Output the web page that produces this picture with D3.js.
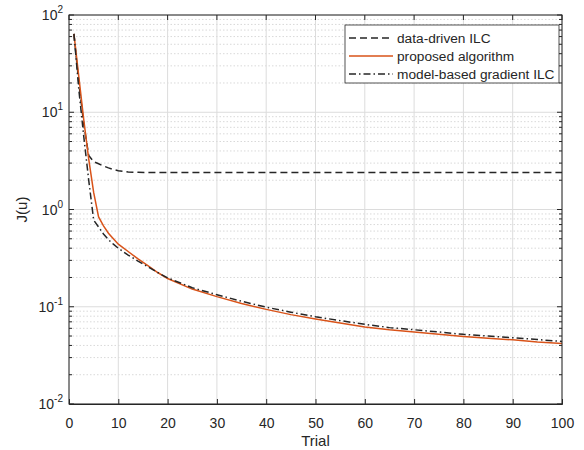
<!DOCTYPE html>
<html>
<head>
<meta charset="utf-8">
<script src="https://cdn.jsdelivr.net/npm/d3@7"></script>
<style>
  body { margin: 0; background: #fff; }
  text { font-family: "Liberation Sans", Arial, sans-serif; fill: #262626; }
</style>
</head>
<body>
<div id="chart"></div>
<script>
// values
const trials = [1, 2, 3, 4, 5, 6, 7, 8, 9, 10, 12, 14, 16, 18, 20, 25, 30, 35, 40, 45, 50, 55, 60, 65, 70, 75, 80, 85, 90, 95, 100]
const dataDriven = [64, 20, 7.5, 3.6, 3.1, 2.95, 2.8, 2.68, 2.58, 2.5, 2.43, 2.41, 2.4, 2.4, 2.4, 2.4, 2.4, 2.4, 2.4, 2.4, 2.4, 2.4, 2.4, 2.4, 2.4, 2.4, 2.4, 2.4, 2.4, 2.4, 2.4]
const proposed = [64, 23, 8.3, 3.3, 1.5, 0.84, 0.68, 0.57, 0.5, 0.44, 0.37, 0.31, 0.265, 0.225, 0.195, 0.152, 0.127, 0.108, 0.094, 0.083, 0.075, 0.068, 0.062, 0.058, 0.055, 0.052, 0.0495, 0.0475, 0.0457, 0.0435, 0.042]
const modelBased = [64, 17, 5.6, 2.0, 0.78, 0.66, 0.56, 0.49, 0.44, 0.40, 0.34, 0.295, 0.258, 0.225, 0.198, 0.157, 0.133, 0.114, 0.099, 0.088, 0.079, 0.072, 0.066, 0.061, 0.058, 0.055, 0.052, 0.05, 0.048, 0.046, 0.044]

const xTicks = [0, 10, 20, 30, 40, 50, 60, 70, 80, 90, 100]
const yExponents = [-2, -1, 0, 1, 2]
const seriesNames = ["data-driven ILC", "proposed algorithm", "model-based gradient ILC"]

const MARGIN = { TOP: 15, BOTTOM: 46, LEFT: 69, RIGHT: 22 }
const WIDTH = 584 - MARGIN.LEFT - MARGIN.RIGHT
const HEIGHT = 450 - MARGIN.TOP - MARGIN.BOTTOM
const AXIS = "#262626"

const svg = d3.select("#chart")
    .append("svg")
    .attr("width", 584)
    .attr("height", 450)
    .append("g")
    .attr("transform", "translate(" + MARGIN.LEFT + "," + MARGIN.TOP + ")")

const x = d3.scaleLinear().domain([0, 100]).range([0, WIDTH])
const y = d3.scaleLog().domain([0.01, 100]).range([HEIGHT, 0])

// minor log values 2..9 in each decade
const minor = []
for (let e = -2; e < 2; e++) {
    for (let m = 2; m <= 9; m++) minor.push(m * Math.pow(10, e))
}

// grid
svg.append("g").selectAll("line")
    .data(minor)
    .enter().append("line")
    .attr("x1", 0).attr("x2", WIDTH)
    .attr("y1", d => y(d)).attr("y2", d => y(d))
    .attr("stroke", "#d9d9d9")
    .attr("stroke-dasharray", "1.5,2")

svg.append("g").selectAll("line")
    .data(yExponents)
    .enter().append("line")
    .attr("x1", 0).attr("x2", WIDTH)
    .attr("y1", d => y(Math.pow(10, d))).attr("y2", d => y(Math.pow(10, d)))
    .attr("stroke", "#dcdcdc")

svg.append("g").selectAll("line")
    .data(xTicks)
    .enter().append("line")
    .attr("x1", d => x(d)).attr("x2", d => x(d))
    .attr("y1", 0).attr("y2", HEIGHT)
    .attr("stroke", "#dcdcdc")

// lines
const line = (vals) => d3.line()
    .x((d, i) => x(trials[i]))
    .y(d => y(d))(vals)

const styles = [
    { vals: dataDriven, color: "#262626", dash: "7,4" },
    { vals: proposed, color: "#D95319", dash: null },
    { vals: modelBased, color: "#262626", dash: "7,3,1.5,3" }
]

styles.forEach(s => {
    svg.append("path")
        .attr("d", line(s.vals))
        .attr("fill", "none")
        .attr("stroke", s.color)
        .attr("stroke-width", 1.5)
        .attr("stroke-dasharray", s.dash)
})

// axes
const xAxis = d3.axisBottom(x).tickValues(xTicks).tickSize(-5).tickPadding(14)
const gx = svg.append("g")
    .attr("transform", "translate(0," + HEIGHT + ")")
    .call(xAxis)
gx.select(".domain").attr("stroke", AXIS)
gx.selectAll(".tick line").attr("stroke", AXIS)
gx.selectAll(".tick text").attr("font-size", 14).attr("fill", AXIS)
    .attr("font-family", "Liberation Sans, Arial, sans-serif")

// top ticks
svg.append("g").selectAll("line")
    .data(xTicks)
    .enter().append("line")
    .attr("x1", d => x(d)).attr("x2", d => x(d))
    .attr("y1", 0).attr("y2", 5)
    .attr("stroke", AXIS)

// y ticks on both sides (major and minor)
const yTickVals = minor.concat(yExponents.map(e => Math.pow(10, e)))
svg.append("g").selectAll("line")
    .data(yTickVals)
    .enter().append("line")
    .attr("x1", 0).attr("x2", d => minor.includes(d) ? 3 : 5)
    .attr("y1", d => y(d)).attr("y2", d => y(d))
    .attr("stroke", AXIS)
svg.append("g").selectAll("line")
    .data(yTickVals)
    .enter().append("line")
    .attr("x1", WIDTH).attr("x2", d => WIDTH - (minor.includes(d) ? 3 : 5))
    .attr("y1", d => y(d)).attr("y2", d => y(d))
    .attr("stroke", AXIS)

// y tick labels 10^n
const yl = svg.append("g").selectAll("text")
    .data(yExponents)
    .enter().append("text")
    .attr("x", -6)
    .attr("y", d => y(Math.pow(10, d)) + 5)
    .attr("text-anchor", "end")
    .attr("font-size", 14)
yl.append("tspan").text("10")
yl.append("tspan").attr("dy", -7).attr("font-size", 10).text(d => d)

// box
svg.append("rect")
    .attr("width", WIDTH).attr("height", HEIGHT)
    .attr("fill", "none")
    .attr("stroke", AXIS)
    .attr("stroke-width", 1)

// axis labels
svg.append("text")
    .attr("x", WIDTH / 2)
    .attr("y", HEIGHT + 42)
    .attr("text-anchor", "middle")
    .attr("font-size", 15)
    .text("Trial")

svg.append("text")
    .attr("x", -(HEIGHT / 2))
    .attr("y", -42)
    .attr("text-anchor", "middle")
    .attr("font-size", 15)
    .attr("transform", "rotate(-90)")
    .text("J(u)")

// legend
const legend = svg.append("g").attr("transform", "translate(" + (345 - MARGIN.LEFT) + "," + (25 - MARGIN.TOP) + ")")
legend.append("rect")
    .attr("width", 214).attr("height", 58)
    .attr("fill", "#fff")
    .attr("stroke", AXIS)
    .attr("stroke-width", 0.8)

styles.forEach((s, i) => {
    const ly = 13 + i * 18
    legend.append("line")
        .attr("x1", 4).attr("x2", 48)
        .attr("y1", ly).attr("y2", ly)
        .attr("stroke", s.color)
        .attr("stroke-width", 1.5)
        .attr("stroke-dasharray", s.dash)
    legend.append("text")
        .attr("x", 52)
        .attr("y", ly + 5)
        .attr("font-size", 13.7)
        .text(seriesNames[i])
})
</script>
</body>
</html>
